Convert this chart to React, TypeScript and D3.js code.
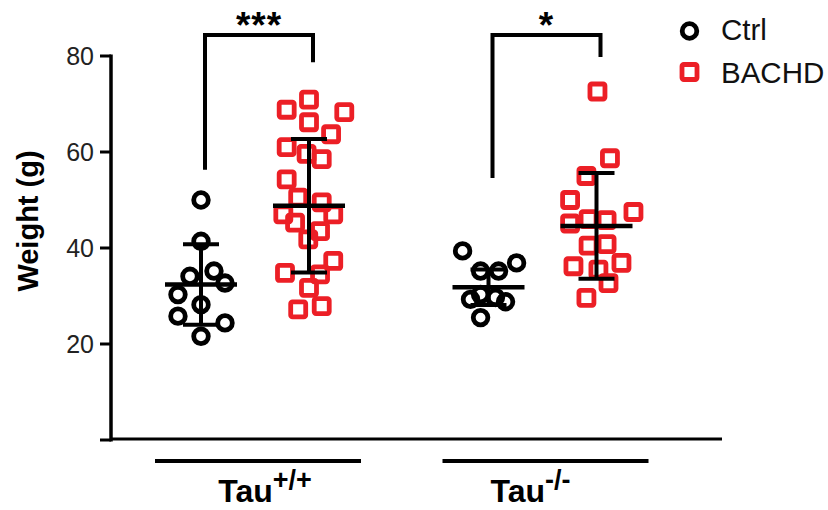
import React from "react";
import * as d3 from "d3";

const genotypes = ["Tau+/+", "Tau-/-"];
const genotypeBase = ["Tau", "Tau"];
const genotypeSup = ["+/+", "-/-"];
const conditions = ["Ctrl", "BACHD"];

// Weight (g) values per group
const ctrlTauWT = [50.0, 41.4, 34.1, 35.2, 32.7, 30.3, 28.2, 25.8, 24.4, 21.6];
const ctrlTauWTJitter = [0, 0, -0.46, 0.54, 1, -0.96, 0, -0.96, 1, 0];
const bachdTauWT = [70.9, 68.8, 68.3, 66.2, 63.7, 61.0, 59.6, 58.5, 54.3, 50.5, 49.5, 47.0, 47.0, 45.3, 43.5, 41.8, 37.3, 34.8, 34.5, 31.7, 27.9, 27.2];
const bachdTauWTJitter = [0, -0.93, 1.47, 0, 0.92, -0.93, -0.1, 0.53, -0.93, -0.45, 0.53, -1.07, 1.01, -0.58, 0.46, -0.03, 1.01, -1, 0.46, 0, 0.53, -0.45];
const ctrlTauKO = [39.4, 35.2, 35.2, 36.9, 29.3, 30.3, 29.7, 28.8, 25.5];
const ctrlTauKOJitter = [-1.08, -0.33, 0.42, 1.17, -0.75, -0.33, 0.29, 0.71, -0.33];
const bachdTauKO = [72.6, 58.7, 55.0, 50.0, 47.5, 45.1, 46.0, 45.8, 40.5, 40.8, 36.2, 36.9, 35.5, 32.7, 29.6];
const bachdTauKOJitter = [0.04, 0.56, -0.42, -1.1, 1.54, -1.1, -0.33, 0.42, -0.33, 0.42, -0.96, 1.04, 0.08, 0.5, -0.42];

// Mean and SD per group (order: Ctrl WT, BACHD WT, Ctrl KO, BACHD KO)
const groupMeans = [32.4, 48.8, 31.8, 44.6];
const groupSDs = [8.4, 13.9, 3.7, 11.0];

const yTicks = [0, 20, 40, 60, 80];
const sigLabels = ["***", "*"];
const sigTop = [84.4, 84.4];
const sigLeftEnd = [56.3, 54.6];
const sigRightEnd = [78.7, 79.8];

const RED = "#ec1f26";
const FONT = "'Liberation Sans', Arial, Helvetica, sans-serif";

export default function App() {
  const W = 828, H = 510;
  const y = d3.scaleLinear().domain([0, 80]).range([440, 56]);
  const xGeno = d3.scalePoint<string>().domain(genotypes).range([255, 542.5]);
  const xCond = d3.scalePoint<string>().domain(conditions).range([-54, 54]);
  const jitterUnit = 24;
  const axisX = 111;
  const axisRight = 722;

  const groups = [
    { g: genotypes[0], c: conditions[0], vals: ctrlTauWT, jit: ctrlTauWTJitter },
    { g: genotypes[0], c: conditions[1], vals: bachdTauWT, jit: bachdTauWTJitter },
    { g: genotypes[1], c: conditions[0], vals: ctrlTauKO, jit: ctrlTauKOJitter },
    { g: genotypes[1], c: conditions[1], vals: bachdTauKO, jit: bachdTauKOJitter },
  ];
  const cx = (g: string, c: string) => (xGeno(g) as number) + (xCond(c) as number);

  const marker = (cond: string, x: number, yy: number, key: string) =>
    cond === "Ctrl" ? (
      <circle key={key} cx={x} cy={yy} r={7.3} fill="none" stroke="#000" strokeWidth={4.8} />
    ) : (
      <rect key={key} x={x - 7.5} y={yy - 7.5} width={15} height={15} rx={1.8} fill="none" stroke={RED} strokeWidth={4.8} />
    );

  return (
    <svg width={W} height={H} style={{ position: "absolute", left: 0, top: 0, background: "#fff" }} fontFamily={FONT}>
      {/* y axis */}
      <line x1={axisX} x2={axisX} y1={y(80) - 1.5} y2={y(0) + 1.5} stroke="#000" strokeWidth={3.5} />
      {yTicks.map((t) => (
        <g key={t}>
          <line x1={axisX - 11} x2={axisX} y1={y(t)} y2={y(t)} stroke="#000" strokeWidth={3} />
          {t > 0 && (
            <text x={axisX - 17} y={y(t)} dy="0.36em" textAnchor="end" fontSize={25} fill="#222">
              {t}
            </text>
          )}
        </g>
      ))}
      {/* x axis */}
      <line x1={axisX} x2={axisRight} y1={y(0) - 1} y2={y(0) - 1} stroke="#000" strokeWidth={3} />
      <text
        transform={`translate(38, 221) rotate(-90)`}
        textAnchor="middle"
        fontSize={29}
        fontWeight="bold"
      >
        Weight (g)
      </text>

      {/* points */}
      {groups.map((gr, gi) =>
        gr.vals.map((v, i) => marker(gr.c, cx(gr.g, gr.c) + gr.jit[i] * jitterUnit, y(v), `p${gi}-${i}`))
      )}

      {/* mean and SD */}
      {groups.map((gr, gi) => {
        const x = cx(gr.g, gr.c);
        const m = groupMeans[gi];
        const s = groupSDs[gi];
        return (
          <g key={`e${gi}`} stroke="#000">
            <line x1={x} x2={x} y1={y(m + s)} y2={y(m - s)} strokeWidth={4} />
            <line x1={x - 18} x2={x + 18} y1={y(m + s)} y2={y(m + s)} strokeWidth={4} />
            <line x1={x - 18} x2={x + 18} y1={y(m - s)} y2={y(m - s)} strokeWidth={4} />
            <line x1={x - 36} x2={x + 36} y1={y(m)} y2={y(m)} strokeWidth={4.5} />
          </g>
        );
      })}

      {/* significance brackets */}
      {genotypes.map((g, i) => {
        const xl = cx(g, conditions[0]) + 4;
        const xr = cx(g, conditions[1]) + 4;
        return (
          <g key={`s${i}`}>
            <path
              d={`M${xl},${y(sigLeftEnd[i])} V${y(sigTop[i])} H${xr} V${y(sigRightEnd[i])}`}
              fill="none"
              stroke="#000"
              strokeWidth={4}
            />
            <text x={(xl + xr) / 2} y={y(sigTop[i]) + 3} textAnchor="middle" fontSize={37} fontWeight="bold" letterSpacing={1}>
              {sigLabels[i]}
            </text>
          </g>
        );
      })}

      {/* genotype group lines and labels */}
      {genotypes.map((g, i) => {
        const c = (xGeno(g) as number) + 3;
        const tx = i === 0 ? c + 7 : c - 15;
        return (
          <g key={`gl${i}`}>
            <line x1={c - 103} x2={c + 103} y1={461} y2={461} stroke="#000" strokeWidth={4} />
            <text x={tx} y={502} textAnchor="middle" fontSize={32} fontWeight="bold">
              {genotypeBase[i]}
              <tspan fontSize={27} dy={-13}>{genotypeSup[i]}</tspan>
            </text>
          </g>
        );
      })}

      {/* legend */}
      {conditions.map((c, i) => (
        <g key={`lg${i}`}>
          {marker(c, 689.5, 31 + i * 41, `lm${i}`)}
          <text x={721} y={39.5 + i * 43} fontSize={29.5} fill="#111">
            {c}
          </text>
        </g>
      ))}
    </svg>
  );
}
